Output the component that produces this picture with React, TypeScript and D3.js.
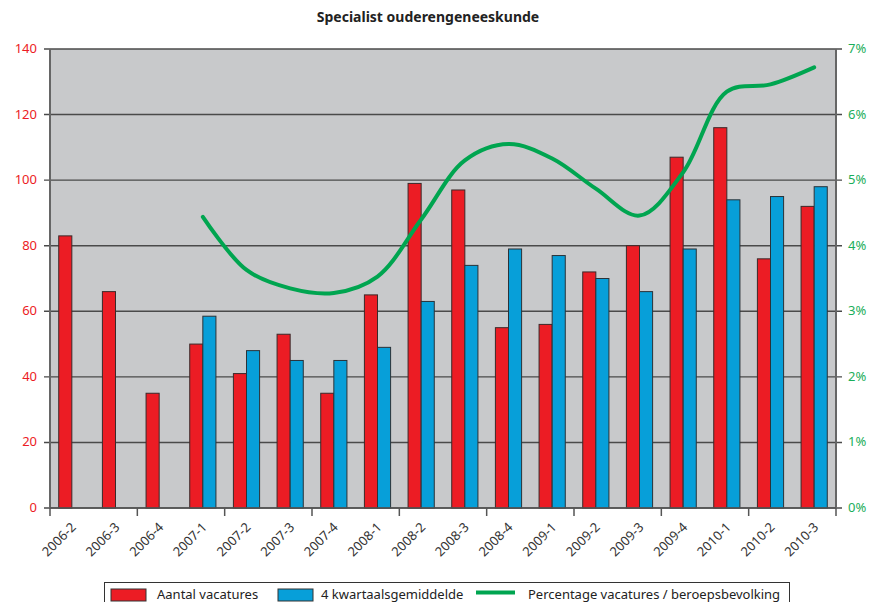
import React from "react";
import * as d3 from "d3";

const categories = [
  "2006-2", "2006-3", "2006-4", "2007-1", "2007-2", "2007-3", "2007-4", "2008-1", "2008-2",
  "2008-3", "2008-4", "2009-1", "2009-2", "2009-3", "2009-4", "2010-1", "2010-2", "2010-3",
];
const vacatures = [83, 66, 35, 50, 41, 53, 35, 65, 99, 97, 55, 56, 72, 80, 107, 116, 76, 92];
const gemiddelde = [null, null, null, 58.5, 48, 45, 45, 49, 63, 74, 79, 77, 70, 66, 79, 94, 95, 98];
const percentage = [null, null, null, 4.44, 3.63, 3.35, 3.28, 3.53, 4.4, 5.3, 5.55, 5.33, 4.87, 4.46, 5.12, 6.35, 6.46, 6.72];
const leftTicks = [0, 20, 40, 60, 80, 100, 120, 140];
const rightTicks = [0, 1, 2, 3, 4, 5, 6, 7];

const W = 875;
const H = 602;
const left = 50, right = 836, top = 49, bottom = 508;
const font = "'Noto Sans', 'Open Sans', sans-serif";
const RED = "#ec1c24";
const BLUE = "#079fd9";
const GREEN = "#00a550";

export default function App() {
  const x = d3.scaleBand<string>(categories, [left, right]);
  const y = d3.scaleLinear([0, 140], [bottom, top]);
  const yp = d3.scaleLinear([0, 7], [bottom, top]);
  const bw = x.bandwidth() * 0.3;
  const cx = (c: string) => (x(c) as number) + x.bandwidth() / 2;

  const pts = categories
    .map((c, i) => [cx(c), percentage[i]] as [number, number | null])
    .filter((d) => d[1] != null) as [number, number][];
  const line = d3.line<[number, number]>()
    .x((d) => d[0])
    .y((d) => yp(d[1]))
    .curve(d3.curveCatmullRom.alpha(0.5));

  const xTicks = categories.filter((_, i) => i % 2 === 0).map((c) => x(c) as number).concat([right]);

  return (
    <div style={{ position: "absolute", left: 0, top: 0 }}>
      <svg width={W} height={H} style={{ display: "block" }}>
        <text x={428} y={22} textAnchor="middle" fontFamily={font} fontWeight="bold" fontSize={14} fill="#222">
          Specialist ouderengeneeskunde
        </text>
        <rect x={left} y={top} width={right - left} height={bottom - top} fill="#c8c9cb" />
        {leftTicks.map((t) => (
          <g key={t}>
            <line x1={left - 6} x2={right + 6} y1={y(t)} y2={y(t)} stroke="#4a4a4a" strokeWidth={1.4} />
            <text x={37} y={y(t) + 4} textAnchor="end" fontFamily={font} fontSize={13} fill={RED}>{t}</text>
          </g>
        ))}
        {rightTicks.map((t) => (
          <text key={t} x={848} y={yp(t) + 4} fontFamily={font} fontSize={13} fill="#1aae5a">{t}%</text>
        ))}
        {categories.map((c, i) => (
          <g key={c}>
            <rect x={cx(c) - bw} y={y(vacatures[i])} width={bw} height={bottom - y(vacatures[i])}
              fill={RED} stroke="#3a2a2a" strokeWidth={1} />
            {gemiddelde[i] != null && (
              <rect x={cx(c)} y={y(gemiddelde[i] as number)} width={bw} height={bottom - y(gemiddelde[i] as number)}
                fill={BLUE} stroke="#2a3238" strokeWidth={1} />
            )}
            <text transform={`translate(${cx(c) + 5},${528}) rotate(-45)`} textAnchor="end"
              fontFamily={font} fontSize={13} fill="#333">{c}</text>
          </g>
        ))}
        <path d={line(pts) || ""} fill="none" stroke={GREEN} strokeWidth={4} strokeLinecap="round" />
        <line x1={left} x2={left} y1={top} y2={bottom} stroke="#666" strokeWidth={2} />
        <line x1={right} x2={right} y1={top} y2={bottom} stroke="#666" strokeWidth={2} />
        <line x1={left} x2={right} y1={bottom} y2={bottom} stroke="#555" strokeWidth={1.5} />
        {xTicks.map((t, i) => (
          <line key={i} x1={t} x2={t} y1={bottom} y2={bottom + 8} stroke="#555" strokeWidth={1.5} />
        ))}
        <rect x={104.5} y={582.5} width={685} height={30} fill="#fff" stroke="#333" strokeWidth={1} />
        <rect x={111} y={589} width={35} height={12} fill={RED} stroke="#333" strokeWidth={1} />
        <text x={157} y={599} fontFamily={font} fontSize={13} fill="#222">Aantal vacatures</text>
        <rect x={278} y={589} width={35} height={12} fill={BLUE} stroke="#333" strokeWidth={1} />
        <text x={321} y={599} fontFamily={font} fontSize={13} fill="#222">4 kwartaalsgemiddelde</text>
        <line x1={476} x2={515} y1={592.5} y2={592.5} stroke={GREEN} strokeWidth={4} />
        <text x={528} y={599} fontFamily={font} fontSize={13} fill="#222">Percentage vacatures / beroepsbevolking</text>
      </svg>
    </div>
  );
}
